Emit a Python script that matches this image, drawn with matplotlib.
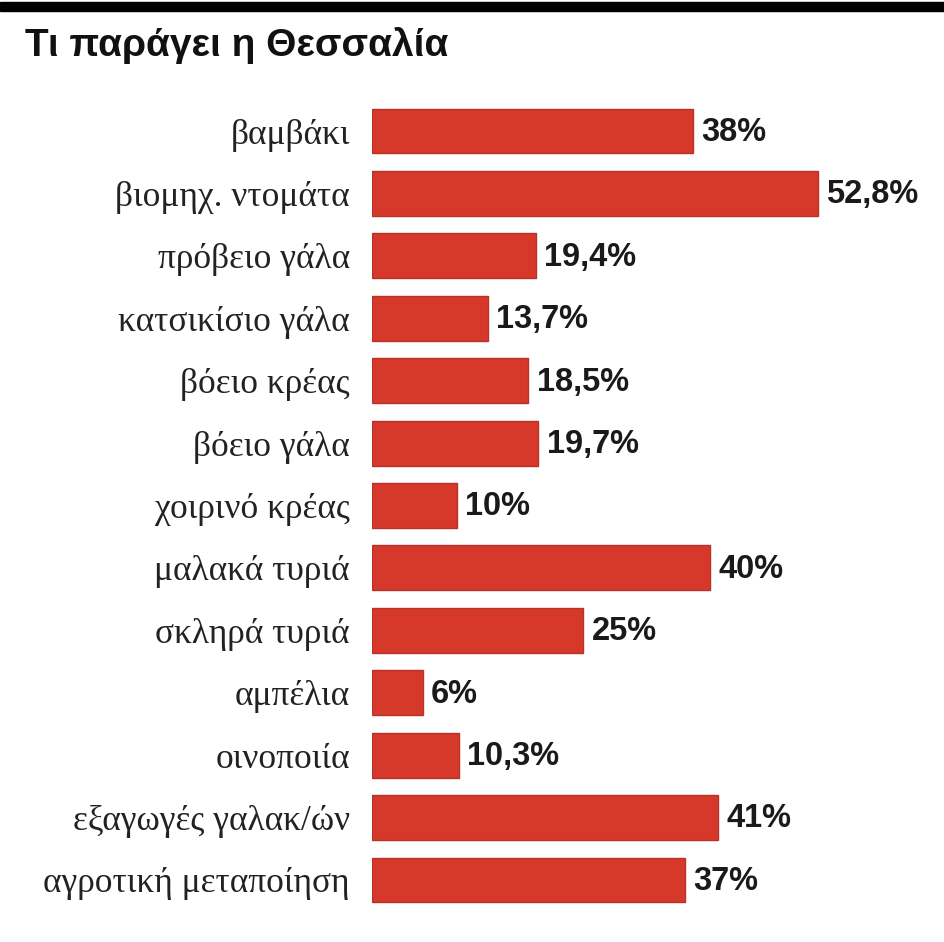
import matplotlib.pyplot as plt
from matplotlib.font_manager import fontManager

categories = ["βαμβάκι", "βιομηχ. ντομάτα", "πρόβειο γάλα", "κατσικίσιο γάλα",
              "βόειο κρέας", "βόειο γάλα", "χοιρινό κρέας", "μαλακά τυριά",
              "σκληρά τυριά", "αμπέλια", "οινοποιία", "εξαγωγές γαλακ/ών",
              "αγροτική μεταποίηση"]
values = [38, 52.8, 19.4, 13.7, 18.5, 19.7, 10, 40, 25, 6, 10.3, 41, 37]
labels = ["38%", "52,8%", "19,4%", "13,7%", "18,5%", "19,7%", "10%", "40%",
          "25%", "6%", "10,3%", "41%", "37%"]
title = "Τι παράγει η Θεσσαλία"

names = {f.name for f in fontManager.ttflist}
narrow = "Liberation Sans Narrow" if "Liberation Sans Narrow" in names else "Liberation Sans"

W, H = 944, 942
fig = plt.figure(figsize=(W / 100, H / 100), dpi=100)

# black rule at the top
fig.patches.append(plt.Rectangle((0, 1 - 11 / H), 1, 9 / H, transform=fig.transFigure,
                                 color="black", zorder=5))
fig.text(25 / W, 1 - 45 / H, title, fontsize=28, fontweight="bold",
         family=[narrow, "DejaVu Sans"], va="center", ha="left", color="#111111")

left = 372 / W
ax = fig.add_axes([left, 1 - 911.2 / H, 1 - left, (911.2 - 99.8) / H])
y = list(range(len(values)))
ax.barh(y, values, height=0.72, color="#d6392a", edgecolor="#b8322a", linewidth=1)
ax.set_ylim(len(values) - 0.5, -0.5)
ax.set_xlim(0, (W - 372) / 8.45)

for yi, v, lab in zip(y, values, labels):
    ax.annotate(lab, (v, yi), xytext=(6, -1), textcoords="offset points",
                va="center", ha="left", fontsize=23.5, fontweight="bold",
                family=[narrow, "DejaVu Sans"], color="#1a1a1a")

ax.set_yticks(y)
ax.set_yticklabels(categories, family=["Liberation Serif", "DejaVu Serif"],
                   fontsize=25.5, color="#222222")
ax.tick_params(axis="y", length=0, pad=16)
ax.set_xticks([])
for s in ax.spines.values():
    s.set_visible(False)

fig.savefig("out.png", dpi=100)
